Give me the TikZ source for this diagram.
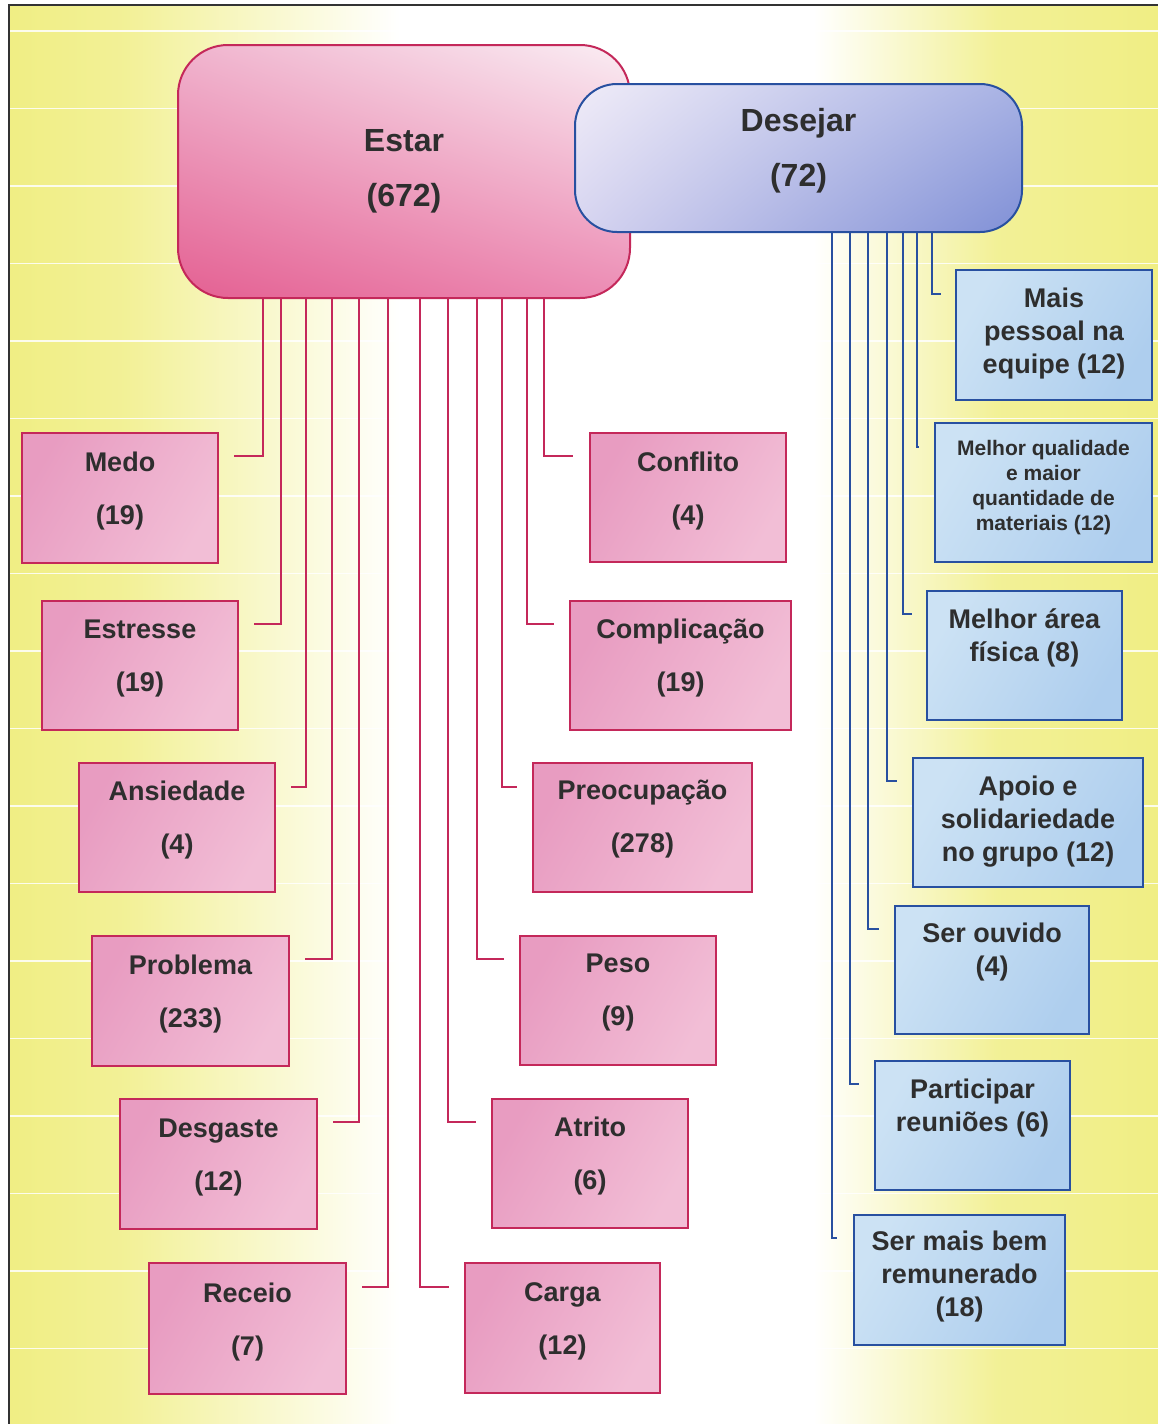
\documentclass[tikz,border=0pt]{standalone}
\usepackage{fontspec}
\setmainfont{Liberation Sans}
\usetikzlibrary{shadings}
\definecolor{yel}{RGB}{240,238,132}
\definecolor{pinkedge}{RGB}{196,40,90}
\definecolor{blueedge}{RGB}{40,80,160}
\definecolor{txtcol}{RGB}{46,46,46}
\definecolor{pinkA}{RGB}{232,156,193}
\definecolor{pinkB}{RGB}{242,190,214}
\definecolor{blueA}{RGB}{204,226,244}
\definecolor{blueB}{RGB}{174,206,238}
\pgfdeclarehorizontalshading{bgshade}{100bp}{color(0bp)=(yel); color(25bp)=(yel); color(30bp)=(yel!85!white); color(42bp)=(white); color(60bp)=(white); color(68bp)=(yel!85!white); color(75bp)=(yel); color(100bp)=(yel)}
\begin{document}
\begin{tikzpicture}[x=1pt,y=-1pt,
  stripe/.style={white,line width=1.6pt,opacity=0.85},
  frame/.style={draw=black!80,line width=2pt},
  pbox/.style={draw=pinkedge,line width=2pt,left color=pinkA,right color=pinkB,shading angle=60,inner sep=0pt},
  bbox/.style={draw=blueedge,line width=2pt,left color=blueA,right color=blueB,shading angle=60,inner sep=0pt},
  pline/.style={draw=pinkedge,line width=2pt},
  bline/.style={draw=blueedge,line width=2pt},
  ptxt/.style={text=txtcol,align=center,inner sep=0pt,font=\fontsize{27}{53}\selectfont\bfseries},
  btxt/.style={text=txtcol,align=center,inner sep=0pt,font=\fontsize{27}{33}\selectfont\bfseries},
  stxt/.style={text=txtcol,align=center,inner sep=0pt,font=\fontsize{21}{25}\selectfont\bfseries},
  htxt/.style={text=txtcol,align=center,inner sep=0pt,font=\fontsize{32}{55}\selectfont\bfseries}
]
\useasboundingbox (0,0) rectangle (1158,1424);
\fill[white] (0,0) rectangle (1158,1424);
\shade[shading=bgshade] (9,5) rectangle (1158,1424);
\foreach \k in {0,...,17} \draw[stripe] (9,{31+77.5*\k}) -- (1158,{31+77.5*\k});
\draw[frame] (9,1424) -- (9,5) -- (1158,5);

% boxes (pink)
\node[pbox,minimum width=196pt,minimum height=130pt] (medo) at (120,498) {};
\node[pbox,minimum width=196pt,minimum height=129pt] (estresse) at (140,665.5) {};
\node[pbox,minimum width=196pt,minimum height=129pt] (ansiedade) at (177,827.5) {};
\node[pbox,minimum width=197pt,minimum height=130pt] (problema) at (190.5,1001) {};
\node[pbox,minimum width=197pt,minimum height=130pt] (desgaste) at (218.5,1164) {};
\node[pbox,minimum width=197pt,minimum height=131pt] (receio) at (247.5,1328.5) {};
\node[pbox,minimum width=196pt,minimum height=129pt] (conflito) at (688,497.5) {};
\node[pbox,minimum width=221pt,minimum height=129pt] (complicacao) at (680.5,665.5) {};
\node[pbox,minimum width=219pt,minimum height=129pt] (preocupacao) at (642.5,827.5) {};
\node[pbox,minimum width=196pt,minimum height=129pt] (peso) at (618,1000.5) {};
\node[pbox,minimum width=196pt,minimum height=129pt] (atrito) at (590,1163.5) {};
\node[pbox,minimum width=195pt,minimum height=130pt] (carga) at (562.5,1328) {};

% boxes (blue)
\node[bbox,minimum width=196pt,minimum height=130pt] (mais) at (1054,335) {};
\node[bbox,minimum width=217pt,minimum height=139pt] (materiais) at (1043.5,492.5) {};
\node[bbox,minimum width=195pt,minimum height=129pt] (area) at (1024.5,655.5) {};
\node[bbox,minimum width=230pt,minimum height=129pt] (apoio) at (1028,822.5) {};
\node[bbox,minimum width=194pt,minimum height=128pt] (ouvido) at (992,970) {};
\node[bbox,minimum width=195pt,minimum height=129pt] (reunioes) at (972.5,1125.5) {};
\node[bbox,minimum width=211pt,minimum height=130pt] (remunerado) at (959.5,1280) {};

% header boxes
\node[draw=pinkedge,line width=2pt,rounded corners=50pt,inner sep=0pt,
  minimum width=452pt,minimum height=253pt,
  lower left={rgb,255:red,228;green,96;blue,146},
  lower right={rgb,255:red,236;green,140;blue,180},
  upper left={rgb,255:red,240;green,180;blue,206},
  upper right={rgb,255:red,250;green,238;blue,244}] (estar) at (404,171.5) {};

% connectors (pink)
\draw[pline] (estar.south -| 263,0) |- ([xshift=15pt,yshift=-24pt]medo.north east);
\draw[pline] (estar.south -| 281,0) |- ([xshift=15pt,yshift=-24pt]estresse.north east);
\draw[pline] (estar.south -| 306,0) |- ([xshift=15pt,yshift=-25pt]ansiedade.north east);
\draw[pline] (estar.south -| 332,0) |- ([xshift=15pt,yshift=-24pt]problema.north east);
\draw[pline] (estar.south -| 359,0) |- ([xshift=15pt,yshift=-24pt]desgaste.north east);
\draw[pline] (estar.south -| 388,0) |- ([xshift=15pt,yshift=-25pt]receio.north east);
\draw[pline] (estar.south -| 420,0) |- ([xshift=-15pt,yshift=-25pt]carga.north west);
\draw[pline] (estar.south -| 448,0) |- ([xshift=-15pt,yshift=-24pt]atrito.north west);
\draw[pline] (estar.south -| 477,0) |- ([xshift=-15pt,yshift=-24pt]peso.north west);
\draw[pline] (estar.south -| 502,0) |- ([xshift=-15pt,yshift=-25pt]preocupacao.north west);
\draw[pline] (estar.south -| 527,0) |- ([xshift=-15pt,yshift=-24pt]complicacao.north west);
\draw[pline] (estar.south -| 544,0) |- ([xshift=-16pt,yshift=-24pt]conflito.north west);

\node[draw=blueedge,line width=2pt,rounded corners=42pt,inner sep=0pt,
  minimum width=447pt,minimum height=148pt,
  upper left={rgb,255:red,240;green,236;blue,248},
  lower left={rgb,255:red,214;green,212;blue,240},
  upper right={rgb,255:red,168;green,178;blue,228},
  lower right={rgb,255:red,128;green,144;blue,214}] (desejar) at (798.5,158) {};

% connectors (blue)
\draw[bline] (desejar.south -| 932,0) |- ([xshift=-14pt,yshift=-25pt]mais.north west);
\draw[bline] (desejar.south -| 917,0) |- ([xshift=-15pt,yshift=-25pt]materiais.north west);
\draw[bline] (desejar.south -| 903,0) |- ([xshift=-14pt,yshift=-24pt]area.north west);
\draw[bline] (desejar.south -| 887,0) |- ([xshift=-15pt,yshift=-24pt]apoio.north west);
\draw[bline] (desejar.south -| 868,0) |- ([xshift=-15pt,yshift=-24pt]ouvido.north west);
\draw[bline] (desejar.south -| 850,0) |- ([xshift=-15pt,yshift=-24pt]reunioes.north west);
\draw[bline] (desejar.south -| 832,0) |- ([xshift=-16pt,yshift=-24pt]remunerado.north west);

% texts
\node[htxt] (estar-t) at (404,171) {Estar\\(672)};
\node[htxt] (desejar-t) at (798.5,151) {Desejar\\(72)};

\node[ptxt] (medo-t) at (120,491) {Medo\\(19)};
\node[ptxt] (estresse-t) at (140,659) {Estresse\\(19)};
\node[ptxt] (ansiedade-t) at (177,820) {Ansiedade\\(4)};
\node[ptxt] (problema-t) at (190.5,994) {Problema\\(233)};
\node[ptxt] (desgaste-t) at (218.5,1157) {Desgaste\\(12)};
\node[ptxt] (receio-t) at (247.5,1322) {Receio\\(7)};
\node[ptxt] (conflito-t) at (688,491) {Conflito\\(4)};
\node[ptxt] (complicacao-t) at (680.5,658) {Complicação\\(19)};
\node[ptxt] (preocupacao-t) at (642.5,819) {Preocupação\\(278)};
\node[ptxt] (peso-t) at (618,993) {Peso\\(9)};
\node[ptxt] (atrito-t) at (590,1156) {Atrito\\(6)};
\node[ptxt] (carga-t) at (562.5,1321) {Carga\\(12)};

\node[btxt] (mais-t) at (1054,334) {Mais\\pessoal na\\equipe (12)};
\node[stxt] (materiais-t) at (1043.5,487.5) {Melhor qualidade\\e maior\\quantidade de\\materiais (12)};
\node[btxt] (area-t) at (1024.5,638) {Melhor área\\física (8)};
\node[btxt] (apoio-t) at (1028,822) {Apoio e\\solidariedade\\no grupo (12)};
\node[btxt] (ouvido-t) at (992,952) {Ser ouvido\\(4)};
\node[btxt] (reunioes-t) at (972.5,1108) {Participar\\reuniões (6)};
\node[btxt] (remunerado-t) at (959.5,1277) {Ser mais bem\\remunerado\\(18)};
\end{tikzpicture}
\end{document}
